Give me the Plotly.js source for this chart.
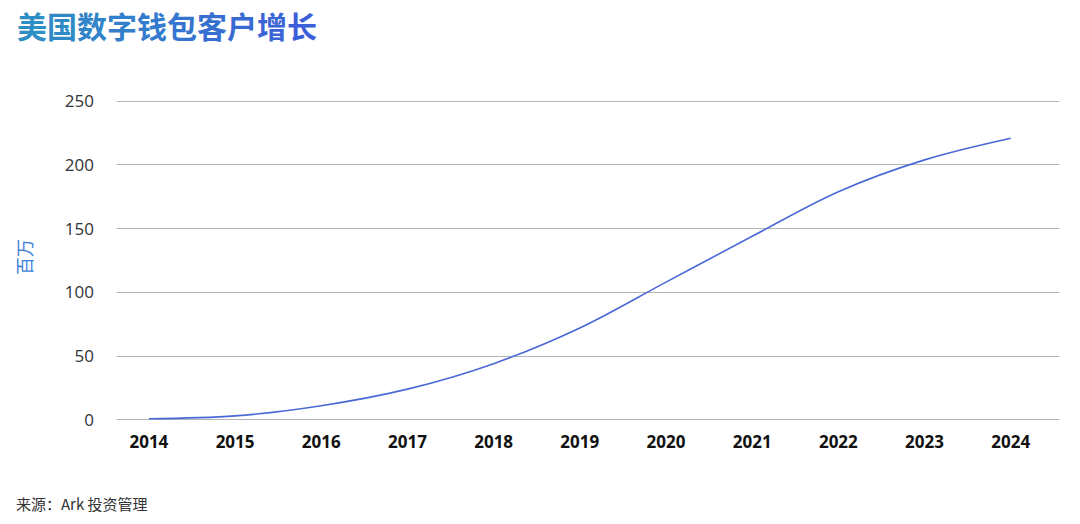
<!DOCTYPE html>
<html>
<head>
<meta charset="utf-8">
<script src="https://cdn.plot.ly/plotly-3.0.1.min.js"></script>
<style>
  html, body { margin: 0; padding: 0; background: #fff; }
  #chart { width: 1080px; height: 524px; }
</style>
</head>
<body>
<div id="chart"></div>
<script>
const years = [2014, 2015, 2016, 2017, 2018, 2019, 2020, 2021, 2022, 2023, 2024];
const customers = [0.8, 3, 11, 24, 44, 72, 108, 144, 179, 204, 221];
const yTicks = [0, 50, 100, 150, 200, 250];

const titleText = "美国数字钱包客户增长";
const titleFrom = [46, 143, 196];
const titleTo = [59, 95, 216];

// colour the title character by character to imitate the gradient
function gradientTitle(text, from, to) {
  const chars = Array.from(text);
  return chars.map((ch, i) => {
    const k = chars.length > 1 ? i / (chars.length - 1) : 0;
    const c = from.map((v, j) => Math.round(v + (to[j] - v) * k));
    return `<span style="color:rgb(${c.join(",")})">${ch}</span>`;
  }).join("");
}

const marginL = 117, marginR = 21, marginT = 100, marginB = 103;
const plotWidth = 1080 - marginL - marginR;
const plotHeight = 524 - marginT - marginB;
// paper y for a pixel row
const py = (px) => (524 - marginB - px) / plotHeight;

const trace = {
  x: years,
  y: customers,
  type: "scatter",
  mode: "lines",
  line: { color: "#4a69d6", width: 1.6, shape: "spline", smoothing: 1 },
  hoverinfo: "x+y",
};

const layout = {
  width: 1080,
  height: 524,
  margin: { l: marginL, r: marginR, t: marginT, b: marginB },
  paper_bgcolor: "#ffffff",
  plot_bgcolor: "#ffffff",
  showlegend: false,
  font: { family: "'Open Sans', 'Noto Sans CJK SC', sans-serif", color: "#333" },
  xaxis: {
    range: [2013.63, 2024.56],
    tickvals: years,
    ticktext: years.map((y) => `<b>${y}</b>`),
    tickfont: { size: 17, color: "#111", family: "'Open Sans', sans-serif" },
    showgrid: false,
    zeroline: false,
    showline: false,
    ticks: "",
    ticklabelstandoff: 9,
    fixedrange: true,
  },
  yaxis: {
    range: [-1, 251],
    tickvals: yTicks,
    tickfont: { size: 17, color: "#333", family: "'Open Sans', sans-serif" },
    showgrid: true,
    gridcolor: "#b4b4b4",
    gridwidth: 1,
    zeroline: true,
    zerolinecolor: "#b4b4b4",
    zerolinewidth: 1,
    showline: false,
    ticks: "",
    ticklabelstandoff: 22,
    fixedrange: true,
  },
  annotations: [
    {
      text: "<b>" + gradientTitle(titleText, titleFrom, titleTo) + "</b>",
      xref: "paper", yref: "paper",
      x: (15 - marginL) / plotWidth, y: py(25),
      xanchor: "left", yanchor: "middle",
      showarrow: false,
      font: { size: 30, family: "'Noto Sans CJK SC', sans-serif" },
    },
    {
      text: "百万",
      xref: "paper", yref: "paper",
      x: (24 - marginL) / plotWidth, y: py(257),
      xanchor: "center", yanchor: "middle",
      textangle: -90,
      showarrow: false,
      font: { size: 18, color: "#3d7fd8", family: "'Noto Sans CJK SC', sans-serif" },
    },
    {
      text: "来源：Ark 投资管理",
      xref: "paper", yref: "paper",
      x: (14 - marginL) / plotWidth, y: py(503),
      xanchor: "left", yanchor: "middle",
      showarrow: false,
      font: { size: 15, color: "#333", family: "'Noto Sans CJK SC', sans-serif" },
    },
  ],
};

Plotly.newPlot("chart", [trace], layout, { displayModeBar: false, staticPlot: true });
</script>
</body>
</html>
